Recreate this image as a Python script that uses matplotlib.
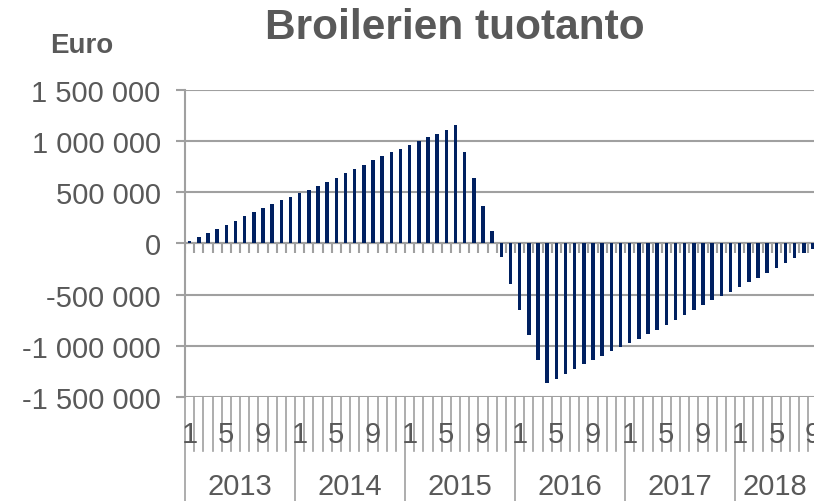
import numpy as np
import matplotlib
matplotlib.use("Agg")
import matplotlib.pyplot as plt
from matplotlib.ticker import FuncFormatter, MultipleLocator

plt.rcParams['font.family'] = ['Liberation Sans', 'DejaVu Sans']

# monthly values, 2013-01 .. 2018-09 (euro)
values = [
    29000, 62000, 101000, 140000, 182000, 218000, 266000, 305000, 344000, 383000, 422000, 455000,
    490000, 526000, 562000, 604000, 643000, 685000, 731000, 770000, 812000, 851000, 890000, 925000,
    964000, 997000, 1036000, 1075000, 1114000, 1159000, 890000, 643000, 370000, 120000, -130000, -399000,
    -646000, -896000, -1143000, -1364000, -1322000, -1273000, -1231000, -1182000, -1140000, -1097000, -1055000, -1013000,
    -971000, -929000, -886000, -844000, -799000, -747000, -701000, -649000, -604000, -555000, -513000, -471000,
    -429000, -380000, -334000, -289000, -240000, -192000, -143000, -94000, -49000,
]
years = ['2013', '2014', '2015', '2016', '2017', '2018']
month_labels = ['1', '5', '9']

TXT = '#595959'
LINE = '#a0a0a0'
BAR = '#002060'

x = np.arange(len(values))
months = x % 12 + 1

fig = plt.figure(figsize=(8.14, 5.02), dpi=100)
ax = fig.add_axes([0.2273, 0.2072, 0.7727, 0.6115])

ax.bar(x, values, width=0.38, color=BAR, zorder=3)

ax.set_xlim(-0.5, 68.1)
ax.set_ylim(-1500000, 1500000)
ax.yaxis.set_major_locator(MultipleLocator(500000))
ax.yaxis.set_major_formatter(FuncFormatter(lambda v, p: f"{v:,.0f}".replace(",", " ")))
ax.grid(axis='y', color=LINE, linewidth=1.5, zorder=0)
ax.tick_params(axis='y', colors=LINE, labelcolor=TXT, labelsize=21, length=6.5, width=1.5, pad=11)
ax.set_xticks([])

for s in ['top', 'right', 'bottom']:
    ax.spines[s].set_visible(False)
ax.spines['left'].set_color(LINE)
ax.spines['left'].set_linewidth(1.5)

# zero axis with month ticks
ax.axhline(0, color=LINE, linewidth=1.5, zorder=2)
bounds = np.arange(len(values) + 1) - 0.5
ax.vlines(bounds, -88000, 0, color=LINE, linewidth=1.5, zorder=2)

# multi-level category labels under the plot
tr = ax.get_xaxis_transform()
for b in bounds:
    if b > 68.1:
        continue
    year_edge = (b + 0.5) % 12 == 0
    ax.plot([b, b], [0, -0.34 if year_edge else -0.176], transform=tr,
            color=LINE, linewidth=1.2, clip_on=False)
for i, m in zip(x, months):
    if str(m) in month_labels:
        ax.text(i, -0.12, str(m), transform=tr, ha='center', va='center',
                fontsize=21, color=TXT, clip_on=False)
for k, yr in enumerate(years):
    start = k * 12 - 0.5
    end = min(start + 12, 68.1)
    ax.text((start + end) / 2, -0.29, yr, transform=tr, ha='center', va='center',
            fontsize=21, color=TXT)

fig.text(0.559, 0.944, 'Broilerien tuotanto', ha='center', va='center',
         fontsize=30.5, fontweight='bold', color=TXT)
fig.text(0.1, 0.908, 'Euro', ha='center', va='center',
         fontsize=20, fontweight='bold', color=TXT)

fig.savefig('out.png', dpi=100)
